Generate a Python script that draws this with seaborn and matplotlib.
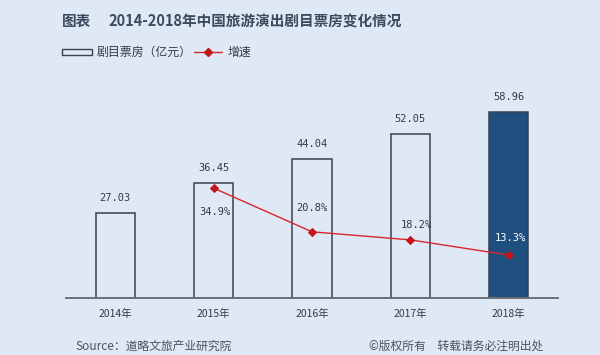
import numpy as np
import pandas as pd
import matplotlib
matplotlib.use("Agg")
import matplotlib.pyplot as plt
from matplotlib.patches import Rectangle
from matplotlib.lines import Line2D
import seaborn as sns

# ---- data ----
years = ["2014年", "2015年", "2016年", "2017年", "2018年"]
box_office = [27.03, 36.45, 44.04, 52.05, 58.96]
growth_years = ["2015年", "2016年", "2017年", "2018年"]
growth = [34.9, 20.8, 18.2, 13.3]
box_labels = ["27.03", "36.45", "44.04", "52.05", "58.96"]
growth_labels = ["34.9%", "20.8%", "18.2%", "13.3%"]

title_prefix = "图表"
title_main = "2014-2018年中国旅游演出剧目票房变化情况"
legend_bar = "剧目票房（亿元）"
legend_line = "增速"
source_text = "Source：道略文旅产业研究院"
copyright_text = "©版权所有　转载请务必注明出处"

# ---- style ----
sns.set_style("white")
plt.rcParams['font.family'] = ['Noto Sans CJK SC', 'DejaVu Sans']

BG = "#dfe9f5"
EDGE = "#3a404c"
NAVY = "#1f4f7e"
RED = "#d8262c"
MRED = "#c4141c"
TXT = "#333a44"
TITLE = "#3a4b60"

W, H = 600, 355
fig = plt.figure(figsize=(6, 3.55), dpi=100, facecolor=BG)

def fx(px):
    return px / W

def fy(py):
    return 1 - py / H

# axes: x 66..558, y 100..298 (pixels)
ax = fig.add_axes([fx(66), fy(298), fx(558) - fx(66), fy(100) - fy(298)])
ax.set_facecolor(BG)

df = pd.DataFrame({"year": years, "box": box_office})
bar_colors = [BG, BG, BG, BG, NAVY]
sns.barplot(data=df, x="year", y="box", hue="year", palette=bar_colors,
            legend=False, width=0.40, saturation=1, edgecolor=EDGE,
            linewidth=1.1, ax=ax)
ax.set_ylim(0, 198 / 3.16)
ax.set_xlim(-0.5, 4.5)

# value labels above bars
for i, (v, lab) in enumerate(zip(box_office, box_labels)):
    ax.annotate(lab, xy=(i, v), xytext=(0, 15), textcoords="offset pixels",
                ha="center", va="center", fontsize=7.5,
                family="DejaVu Sans Mono", color=TXT)

# growth line on twin axis
ax2 = ax.twinx()
gidx = [years.index(y) for y in growth_years]
sns.lineplot(x=gidx, y=growth, ax=ax2, color=RED, linewidth=1.0,
             marker="D", markersize=4.5, markerfacecolor=MRED,
             markeredgecolor=MRED)
ax2.set_ylim(-0.55, 198 / 3.10 - 0.55)
ax2.set_xlim(-0.5, 4.5)

offsets = [(1, -24), (0, 24), (6, 15), (2, 17)]
gcolors = [TXT, TXT, TXT, "white"]
for xi, v, lab, off, c in zip(gidx, growth, growth_labels, offsets, gcolors):
    ax2.annotate(lab, xy=(xi, v), xytext=off, textcoords="offset pixels",
                 ha="center", va="center", fontsize=7.5,
                 family="DejaVu Sans Mono", color=c)

for a in (ax, ax2):
    for s in ("top", "left", "right"):
        a.spines[s].set_visible(False)
    a.set_ylabel("")
    a.set_xlabel("")
    a.set_yticks([])
ax2.spines["bottom"].set_visible(False)
ax.spines["bottom"].set_color("#6b7179")
ax.spines["bottom"].set_linewidth(1.4)

ax.set_xticks(range(len(years)))
ax.set_xticklabels(years, fontsize=7.5, color=TXT)
ax.tick_params(axis="x", which="major", length=0, pad=8)
ax.set_xticks(np.arange(-0.5, len(years), 1.0), minor=True)
ax.tick_params(axis="x", which="minor", direction="in", length=3,
               width=1, color="#6b7179")

# title
fig.text(fx(62), fy(21), title_prefix, fontsize=10.5, fontweight="bold",
         color=TITLE, ha="left", va="center")
fig.text(fx(108), fy(21), title_main, fontsize=10.5, fontweight="bold",
         color=TITLE, ha="left", va="center")

# legend (manual)
fig.patches.append(Rectangle((fx(62), fy(55)), fx(92) - fx(62), fy(49) - fy(55),
                             transform=fig.transFigure, facecolor=BG,
                             edgecolor=EDGE, linewidth=1.0))
fig.text(fx(97), fy(52), legend_bar, fontsize=8.6, color=TXT,
         ha="left", va="center")
fig.lines.append(Line2D([fx(194), fx(222)], [fy(52), fy(52)],
                        transform=fig.transFigure, color=RED, linewidth=1.0))
fig.lines.append(Line2D([fx(208)], [fy(52)], transform=fig.transFigure,
                        marker="D", markersize=4, color=MRED, linestyle="none"))
fig.text(fx(228), fy(52), legend_line, fontsize=8.6, color=TXT,
         ha="left", va="center")

# footer
fig.text(fx(75), fy(346), source_text, fontsize=8.5, color="#4a525c",
         ha="left", va="center")
fig.text(fx(543), fy(346), copyright_text, fontsize=8.5, color="#4a525c",
         ha="right", va="center")

fig.savefig("out.png", dpi=100, facecolor=BG)
